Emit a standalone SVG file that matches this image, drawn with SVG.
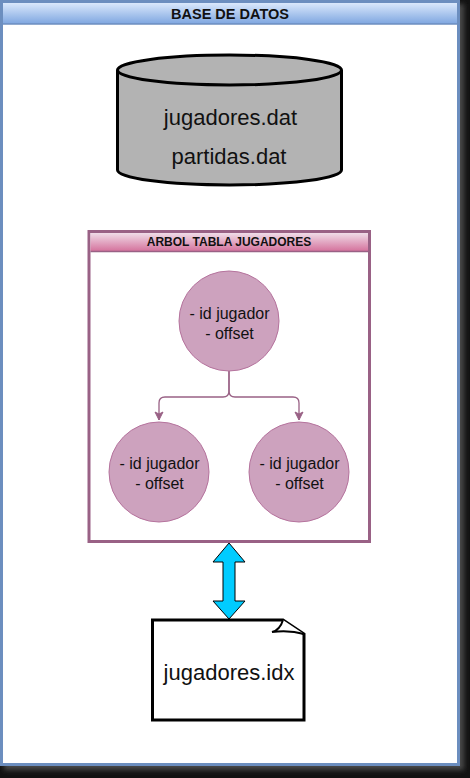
<svg xmlns="http://www.w3.org/2000/svg" width="470" height="778" viewBox="0 0 470 778">
<defs>
<linearGradient id="gBlue" x1="0" y1="0" x2="0" y2="1"><stop offset="0" stop-color="#dae8fc"/><stop offset="1" stop-color="#7ea6e0"/></linearGradient>
<linearGradient id="gPink" x1="0" y1="0" x2="0" y2="1"><stop offset="0" stop-color="#f0dce8"/><stop offset="1" stop-color="#d5739d"/></linearGradient>
<filter id="blur" x="-5%" y="-5%" width="110%" height="110%"><feGaussianBlur stdDeviation="2.5"/></filter>
<marker id="arr" viewBox="0 0 10 10" refX="9" refY="5" markerWidth="10" markerHeight="10" markerUnits="userSpaceOnUse" orient="auto"><path d="M1,1 L9,5 L1,9 L3,5 Z" fill="#996185" stroke="#996185" stroke-width="1"/></marker>
<style>
.t{font-family:"Liberation Sans",Arial,sans-serif;fill:#111;text-anchor:middle;dominant-baseline:central}
.c{font-size:16px}
.big{font-size:22px}
.node{fill:#cda2be;stroke:#b5739d;stroke-width:1}
.conn{fill:none;stroke:#996185;stroke-width:1.3}
</style>
</defs>
<rect x="0" y="0" width="470" height="778" fill="#121212"/>
<rect x="4" y="4" width="460" height="766" fill="#4a4a4a" filter="url(#blur)"/>
<g id="frame">
<rect x="1.5" y="1.5" width="457" height="763" fill="#ffffff" stroke="#6c8ebf" stroke-width="3"/>
<rect x="3" y="3" width="454" height="21" fill="url(#gBlue)"/>
<line x1="3" y1="24" x2="457" y2="24" stroke="#6c8ebf" stroke-width="1.5"/>
<text class="t" x="230" y="14" font-size="14.5" font-weight="bold">BASE DE DATOS</text>
</g>
<g id="db">
<path d="M117.5,70 L117.5,170 A112,15 0 0 0 341.5,170 L341.5,70" fill="#b3b3b3" stroke="#000" stroke-width="3"/>
<ellipse cx="229.5" cy="70" rx="112" ry="15" fill="#b3b3b3" stroke="#000" stroke-width="3"/>
<text class="t big" x="230.5" y="117">jugadores.dat</text>
<text class="t big" x="229" y="156">partidas.dat</text>
</g>
<g id="arbol">
<rect x="89" y="231.5" width="280.5" height="310" fill="#ffffff" stroke="#996185" stroke-width="3"/>
<rect x="90.5" y="233" width="277.5" height="18" fill="url(#gPink)"/>
<line x1="90.5" y1="251.5" x2="368" y2="251.5" stroke="#996185" stroke-width="1.5"/>
<text class="t" x="229" y="242" font-size="12" font-weight="bold">ARBOL TABLA JUGADORES</text>
</g>
<g id="connectors">
<path class="conn" d="M229,371 L229,391 Q229,397 223,397 L165,397 Q159,397 159,403 L159,420" marker-end="url(#arr)"/>
<path class="conn" d="M229,371 L229,391 Q229,397 235,397 L293,397 Q299,397 299,403 L299,420" marker-end="url(#arr)"/>
<path d="M229,543 L245,562 L235,562 L235,601 L245,601 L229,619 L213,601 L223,601 L223,562 L213,562 Z" fill="#00ccff" stroke="#000" stroke-width="1"/>
</g>
<g id="n1">
<circle class="node" cx="229" cy="321" r="50"/>
<text class="t c" x="229.5" y="313">- id jugador</text>
<text class="t c" x="229.5" y="333">- offset</text>
</g>
<g id="n2">
<circle class="node" cx="159" cy="472" r="50"/>
<text class="t c" x="159.5" y="463">- id jugador</text>
<text class="t c" x="159.5" y="483">- offset</text>
</g>
<g id="n3">
<circle class="node" cx="299" cy="472" r="50"/>
<text class="t c" x="299.5" y="463">- id jugador</text>
<text class="t c" x="299.5" y="483">- offset</text>
</g>
<g id="idx">
<path d="M152.5,620 L283,620 L304,634 L304,720 L152.5,720 Z" fill="#ffffff" stroke="#000" stroke-width="3"/>
<path d="M283,620 Q280,630 272,632 Q290,630 304,634" fill="#ffffff" stroke="#000" stroke-width="2"/>
<text class="t big" x="229" y="672">jugadores.idx</text>
</g>
</svg>
